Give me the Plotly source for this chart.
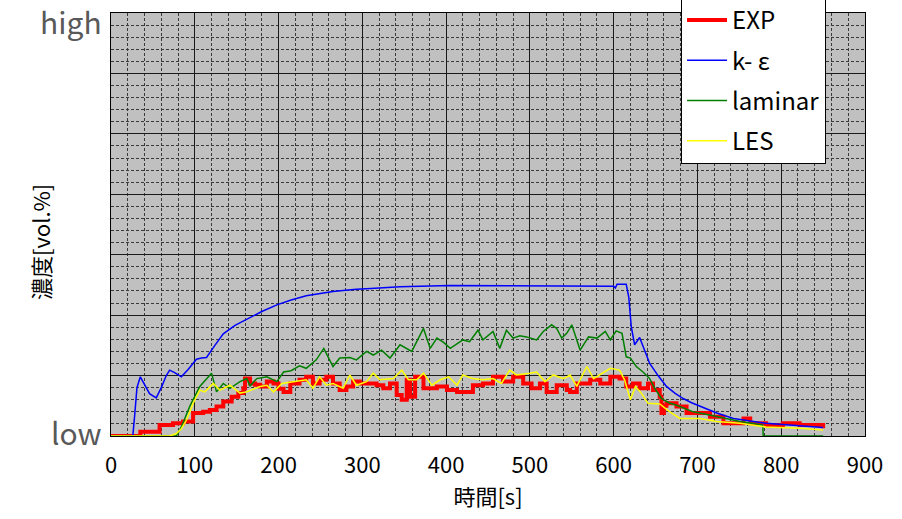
import plotly.graph_objects as go

# ---- data ----
t_kep = [0,26,28,31,35,40,46,54,60,66,70,76,84,92,102,108,114,124,134,148,162,180,198,215,233,250,265,280,293,310,345,405,500,584,600,602,604,615,618,621,625,631,643,653,663,673,683,693,703,723,743,763,782,802,822,850]
y_kep = [0,0,0.3,0.8,0.98,0.85,0.7,0.63,0.8,1.0,1.09,1.05,0.98,1.1,1.27,1.29,1.30,1.5,1.69,1.83,1.93,2.06,2.17,2.25,2.32,2.36,2.39,2.41,2.43,2.44,2.47,2.49,2.49,2.49,2.48,2.45,2.51,2.51,2.3,1.81,1.51,1.63,1.20,1.0,0.82,0.71,0.62,0.55,0.49,0.38,0.29,0.25,0.21,0.19,0.17,0.14]

t_lam = [0,78,84,94,106,114,120,126,134,142,154,162,166,174,186,198,206,215,225,233,245,254,265,273,285,293,305,313,323,333,345,359,373,381,389,397,405,420,428,438,444,456,464,472,480,488,496,508,516,526,532,538,544,550,560,570,580,590,596,603,610,615,620,627,635,643,649,657,666,675,685,695,710,723,737,751,765,778,778.5,850]
y_lam = [0,0,0.15,0.49,0.82,0.95,1.04,0.73,0.87,0.79,0.90,0.95,0.83,0.95,0.98,0.90,1.06,1.08,1.16,1.12,1.26,1.45,1.15,1.29,1.30,1.26,1.40,1.34,1.42,1.29,1.51,1.40,1.78,1.45,1.62,1.55,1.45,1.59,1.56,1.75,1.59,1.73,1.45,1.75,1.62,1.66,1.64,1.59,1.73,1.84,1.78,1.62,1.70,1.84,1.42,1.64,1.62,1.73,1.59,1.74,1.70,1.31,1.29,1.15,1.06,0.95,0.79,0.62,0.55,0.51,0.45,0.40,0.36,0.32,0.28,0.24,0.21,0.18,0,0]

t_les = [0,70,78,84,90,98,106,112,122,130,142,154,162,170,178,186,194,204,218,233,241,249,257,265,277,285,293,305,313,321,337,347,355,365,373,383,393,403,413,420,432,444,456,466,476,484,500,508,518,528,540,548,556,568,576,588,596,607,613,620,626,633,641,655,667,679,703,723,751,782,822,850]
y_les = [0,0,0.04,0.12,0.26,0.54,0.76,0.73,0.87,0.76,0.84,0.71,0.73,0.78,0.82,0.84,0.73,0.87,0.90,0.93,0.79,0.98,0.84,0.87,0.79,1.01,0.84,0.90,1.04,0.93,0.95,1.09,0.93,0.93,1.04,0.84,0.93,0.98,0.84,1.01,0.95,0.93,0.95,0.87,1.09,1.01,1.04,1.06,0.90,1.01,0.95,1.01,0.82,1.15,0.95,1.06,1.12,1.09,0.93,0.60,0.82,0.71,0.54,0.53,0.40,0.29,0.29,0.24,0.21,0.15,0.13,0.10]

t_exp = [0,35,50,58,74,86,98,110,118,126,134,144,152,158,160,166,172,178,186,194,200,206,214,225,233,241,249,257,265,273,281,289,297,309,317,325,333,341,347,353,357,363,373,389,401,413,425,432,444,456,468,480,492,502,512,520,532,544,548,556,572,584,596,607,615,623,631,641,647,655,657,660,663,675,687,703,715,731,743,755,763,782,802,822,838,850]
y_exp = [0,0.07,0.07,0.18,0.21,0.24,0.38,0.40,0.43,0.49,0.57,0.65,0.71,0.79,0.95,0.87,0.85,0.82,0.90,0.87,0.78,0.73,0.87,0.93,0.98,0.87,0.93,0.98,0.87,0.76,0.82,0.90,0.87,0.87,0.84,0.79,0.87,0.68,0.60,0.93,0.65,0.98,0.79,0.82,0.76,0.73,0.73,0.84,0.87,0.98,0.90,0.98,0.87,0.79,0.87,0.73,0.84,0.76,0.73,0.87,0.93,0.87,0.98,0.95,0.82,0.87,0.79,0.87,0.76,0.65,0.38,0.50,0.54,0.49,0.38,0.38,0.32,0.21,0.21,0.29,0.21,0.18,0.21,0.18,0.18,0.13]

x_ticks = [0, 100, 200, 300, 400, 500, 600, 700, 800, 900]
y_major = [0, 1, 2, 3, 4, 5, 6, 7]
y_labels = {0: "low", 7: "high"}

FONT = "Noto Sans CJK JP"

fig = go.Figure()
fig.add_trace(go.Scatter(x=t_exp, y=y_exp, name="EXP", mode="lines", line=dict(color="#ff0000", width=4, shape="hv"), legendgroup="a"))
fig.add_trace(go.Scatter(x=t_kep, y=y_kep, name="k- ε", mode="lines", line=dict(color="#0000ff", width=1.5), legendgroup="b"))
fig.add_trace(go.Scatter(x=t_lam, y=y_lam, name="laminar", mode="lines", line=dict(color="#008000", width=1.5), legendgroup="c"))
fig.add_trace(go.Scatter(x=t_les, y=y_les, name="LES", mode="lines", line=dict(color="#ffff00", width=1.5), legendgroup="d"))

annotations = [dict(text="濃度[vol.%]", textangle=-90, xref="paper", yref="paper", x=(40 - 111) / 754, y=(436 - 242) / 423,
                    xanchor="center", yanchor="middle", showarrow=False, font=dict(size=22, family=FONT, color="black"))]
for v, lab in y_labels.items():
    annotations.append(dict(text=lab, xref="paper", yref="y", x=-0.009, y=v, xanchor="right", yanchor="middle",
                            yshift=(-8 if v == 7 else 4), showarrow=False, font=dict(size=30, family=FONT, color="#595959")))

fig.update_layout(
    width=902, height=519,
    margin=dict(l=111, r=37, t=13, b=83, autoexpand=False),
    paper_bgcolor="white", plot_bgcolor="#c0c0c0",
    font=dict(family=FONT, color="black"),
    showlegend=True,
    legend=dict(x=0.756, y=1.038, xanchor="left", yanchor="top",
                bgcolor="white", bordercolor="black", borderwidth=1,
                font=dict(size=24, family=FONT, color="black"),
                tracegroupgap=6, itemwidth=40),
    xaxis=dict(range=[0, 900], tickvals=x_ticks, ticks="", showline=True, linecolor="black", linewidth=1, mirror=True,
               showgrid=True, gridcolor="#1a1a1a", gridwidth=1, zeroline=False,
               minor=dict(dtick=20, showgrid=True, gridcolor="#3a3a3a", griddash="3px,2px", gridwidth=1),
               tickfont=dict(size=22, family=FONT, color="black"), ticklabelstandoff=10,
               title=dict(text="時間[s]", font=dict(size=22, family=FONT), standoff=8)),
    yaxis=dict(range=[0, 7], tickvals=y_major, showticklabels=False, ticks="", showline=True, linecolor="black", linewidth=1, mirror=True,
               showgrid=True, gridcolor="#1a1a1a", gridwidth=1, zeroline=False,
               minor=dict(tickvals=[i * 0.2 for i in range(36)], showgrid=True, gridcolor="#3a3a3a", griddash="3px,2px", gridwidth=1)),
    annotations=annotations,
)
fig.write_html("out.html")
